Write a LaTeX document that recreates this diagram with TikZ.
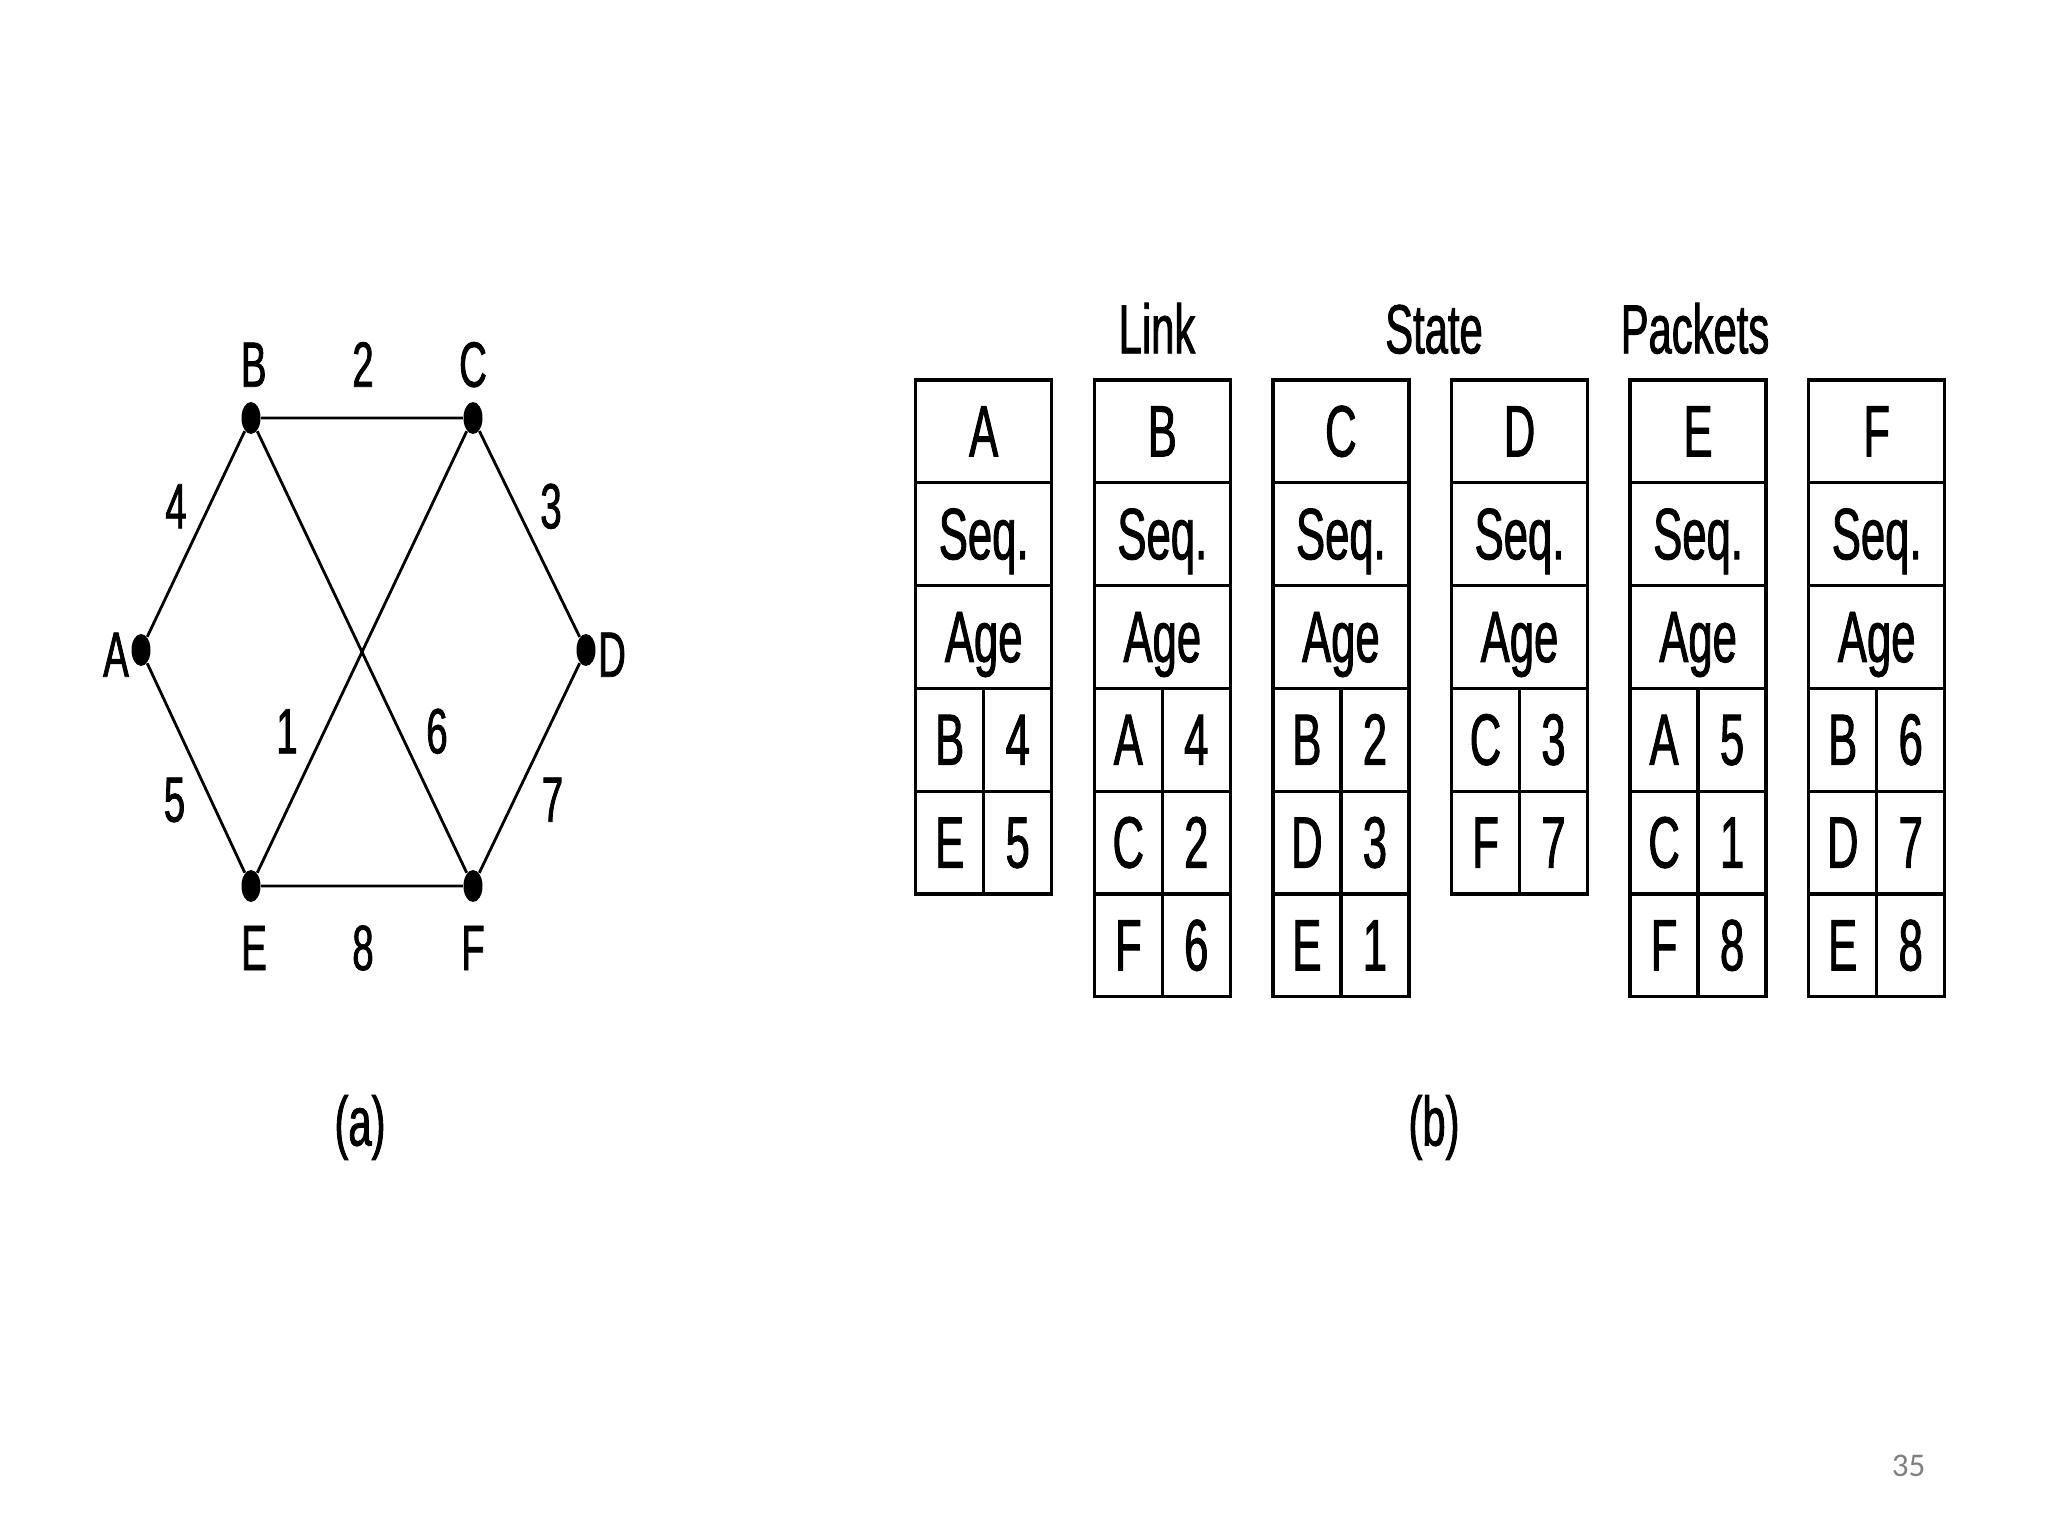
\documentclass[tikz,border=0pt]{standalone}
\usepackage{fontspec}
\setmainfont{Liberation Sans}[FakeStretch=0.6, FakeBold=1.2]
\newfontfamily\slidefont{Carlito}
\usetikzlibrary{shapes.geometric,positioning}

\tikzset{
  router/.style={ellipse, fill=black, inner sep=0pt,
    minimum width=0.19cm, minimum height=0.32cm},
  wire/.style={line width=0.8pt},
  tag/.style={font=\fontsize{18.2}{22}\selectfont, anchor=base, inner sep=0pt},
  heading/.style={font=\fontsize{19.8}{24}\selectfont, anchor=base, inner sep=0pt},
  cell/.style={draw, line width=0.95pt, font=\fontsize{20.7}{24}\selectfont,
    inner sep=0pt, outer sep=0pt, minimum width=1.36cm, minimum height=1.028cm,
    text height=0.5cm, text depth=0cm},
  half/.style={cell, minimum width=0.68cm}
}

\begin{document}
\begin{tikzpicture}

\useasboundingbox (0,0) rectangle (20.48,-15.36);

% Router
\node[router] (A) at (1.41,-6.50) {};
\node[router] (B) at (2.51,-4.18) {};
\node[router] (C) at (4.73,-4.18) {};
\node[router] (D) at (5.86,-6.50) {};
\node[router] (E) at (2.51,-8.86) {};
\node[router] (F) at (4.73,-8.86) {};

% Leitungen
\draw[wire] (A) -- (B) -- (C) -- (D) -- (F) -- (E) -- (A);
\draw[wire] (B) -- (F);
\draw[wire] (C) -- (E);

% Namen
\node[tag] (nA) at (1.16,-6.767) {A};
\node[tag] (nB) at (2.537,-3.867) {B};
\node[tag] (nC) at (4.73,-3.867) {C};
\node[tag] (nD) at (6.12,-6.767) {D};
\node[tag] (nE) at (2.54,-9.70) {E};
\node[tag] (nF) at (4.73,-9.70) {F};

% Kosten
\node[tag] (w2) at (3.63,-3.867) {2};
\node[tag] (w4) at (1.76,-5.283) {4};
\node[tag] (w3) at (5.51,-5.283) {3};
\node[tag] (w1) at (2.87,-7.533) {1};
\node[tag] (w6) at (4.37,-7.533) {6};
\node[tag] (w5) at (1.745,-8.217) {5};
\node[tag] (w7) at (5.525,-8.217) {7};
\node[tag] (w8) at (3.63,-9.70) {8};

% Pakete
\foreach \i/\hd/\rows in {0/A/{B/4,E/5}, 1/B/{A/4,C/2,F/6}, 2/C/{B/2,D/3,E/1},
    3/D/{C/3,F/7}, 4/E/{A/5,C/1,F/8}, 5/F/{B/6,D/7,E/8}}{
  \node[cell, anchor=north west] (hd-\hd) at ({9.157+1.786*\i},-3.80) {\hd};
  \node[cell, below=0pt of hd-\hd] (seq-\hd) {Seq.};
  \node[cell, below=0pt of seq-\hd] (age-\hd) {Age};
  \foreach \nb/\cost [count=\r] in \rows {
    \node[half, anchor=north west] (nb-\hd-\r)
      at ([yshift={-1.028cm*(\r-1)}]age-\hd.south west) {\nb};
    \node[half, anchor=north west] (ct-\hd-\r) at (nb-\hd-\r.north east) {\cost};
  }
}

\node[heading] (tLink) at (11.57,-3.533) {Link};
\node[heading] (tState) at (14.34,-3.533) {State};
\node[heading] (tPackets) at (16.95,-3.533) {Packets};

% Unterschriften
\node[heading, anchor=center] (capA) at (3.60,-11.275) {(a)};
\node[heading, anchor=center] (capB) at (14.34,-11.275) {(b)};

\node[font=\slidefont\fontsize{9.4}{11}\selectfont, text=black!50, inner sep=0pt]
  (pageno) at (19.087,-14.655) {35};

\end{tikzpicture}
\end{document}
